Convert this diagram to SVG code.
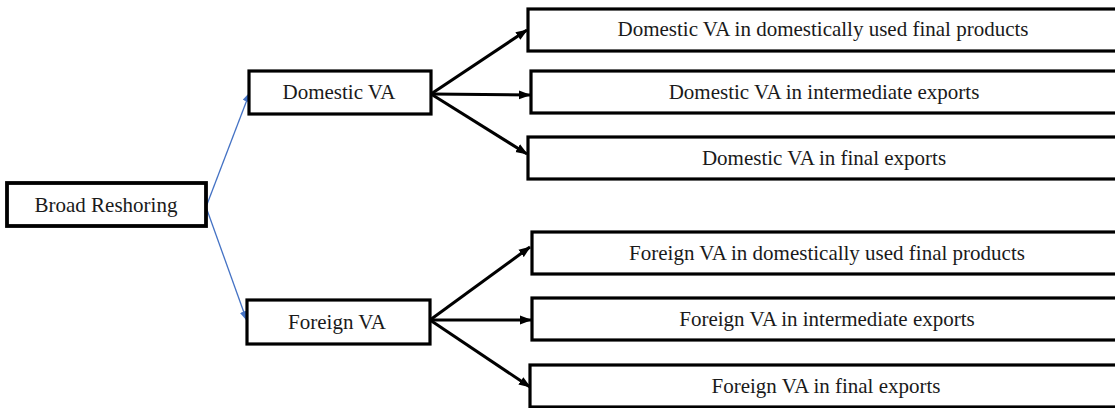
<svg xmlns="http://www.w3.org/2000/svg" width="1115" height="408" viewBox="0 0 1115 408">
<style>
  .box { fill: #ffffff; stroke: #000000; stroke-width: 3.2; }
  .lbl { font-family: 'Liberation Serif', 'Times New Roman', Times, 'DejaVu Serif', serif; font-size: 21px; fill: #1a1a1a; text-anchor: middle; }
  .blk { stroke: #000000; stroke-width: 3; fill: none; }
  .blu { stroke: #4472C4; stroke-width: 1.3; fill: none; }
</style>
<defs>
  <marker id="ahBlack" markerUnits="userSpaceOnUse" markerWidth="12" markerHeight="10" refX="11" refY="5" orient="auto">
    <path d="M0,0.5 L12,5 L0,9.5 z" fill="#000000"/>
  </marker>
  <marker id="ahBlue" markerUnits="userSpaceOnUse" markerWidth="10" markerHeight="8" refX="10" refY="4" orient="auto">
    <path d="M0,0 L10,4 L0,8 z" fill="#4472C4"/>
  </marker>
</defs>
<rect width="1115" height="408" fill="#ffffff"/>
<g id="connectors">
  <line class="blu" x1="206" y1="207" x2="250" y2="92" marker-end="url(#ahBlue)"/>
  <line class="blu" x1="206" y1="207" x2="247" y2="321" marker-end="url(#ahBlue)"/>
  <line class="blk" x1="431" y1="94" x2="527" y2="30" marker-end="url(#ahBlack)"/>
  <line class="blk" x1="431" y1="94" x2="530" y2="95" marker-end="url(#ahBlack)"/>
  <line class="blk" x1="431" y1="94" x2="527" y2="154" marker-end="url(#ahBlack)"/>
  <line class="blk" x1="430" y1="320" x2="530" y2="247" marker-end="url(#ahBlack)"/>
  <line class="blk" x1="430" y1="320" x2="531" y2="320" marker-end="url(#ahBlack)"/>
  <line class="blk" x1="430" y1="320" x2="530" y2="387" marker-end="url(#ahBlack)"/>
</g>
<g id="broad-reshoring">
  <rect class="box" x="7" y="183" width="199" height="43" style="stroke-width:3.8"/>
  <text class="lbl" x="106" y="212">Broad Reshoring</text>
</g>
<g id="domestic-va">
  <rect class="box" x="249" y="71" width="182" height="43"/>
  <text class="lbl" x="339" y="99">Domestic VA</text>
</g>
<g id="foreign-va">
  <rect class="box" x="247" y="300" width="183" height="44"/>
  <text class="lbl" x="337" y="329">Foreign VA</text>
</g>
<g id="dom-final-domestic">
  <rect class="box" x="528" y="9" width="600" height="42"/>
  <text class="lbl" x="823" y="36">Domestic VA in domestically used final products</text>
</g>
<g id="dom-intermediate">
  <rect class="box" x="531" y="71" width="600" height="42"/>
  <text class="lbl" x="824" y="99">Domestic VA in intermediate exports</text>
</g>
<g id="dom-final-exports">
  <rect class="box" x="528" y="137" width="600" height="42"/>
  <text class="lbl" x="824" y="165">Domestic VA in final exports</text>
</g>
<g id="for-final-domestic">
  <rect class="box" x="532" y="232" width="600" height="42"/>
  <text class="lbl" x="827" y="260">Foreign VA in domestically used final products</text>
</g>
<g id="for-intermediate">
  <rect class="box" x="532" y="298" width="600" height="42"/>
  <text class="lbl" x="827" y="326">Foreign VA in intermediate exports</text>
</g>
<g id="for-final-exports">
  <rect class="box" x="530" y="365" width="600" height="42"/>
  <text class="lbl" x="826" y="393">Foreign VA in final exports</text>
</g>
</svg>
